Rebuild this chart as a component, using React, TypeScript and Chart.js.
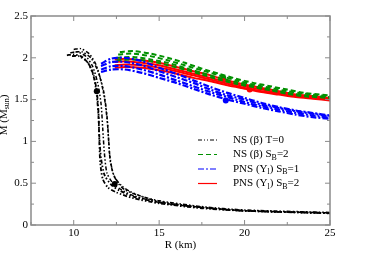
import React, { useEffect, useRef } from "react";
import { Chart, registerables } from "chart.js";
Chart.register(...registerables);

type P = { x: number; y: number };
const pts = (a: number[][]): P[] => a.map(([x, y]) => ({ x, y }));

// NS (beta) T=0
const black1 = [[9.6,2.03],[10.0,2.04],[10.5,2.01],[10.9,1.92],[11.2,1.75],[11.35,1.55],[11.45,1.3],[11.5,1.0],[11.55,0.75],[11.7,0.55],[12.0,0.45],[12.5,0.39],[13.5,0.32],[15,0.26],[17.5,0.2],[20,0.17],[25,0.14]];
const black2 = [[9.8,2.06],[10.2,2.07],[10.7,2.02],[11.1,1.9],[11.4,1.7],[11.6,1.45],[11.7,1.15],[11.8,0.85],[11.95,0.62],[12.3,0.5],[12.8,0.42],[13.5,0.35],[15,0.27],[17.5,0.21],[20,0.17],[25,0.145]];
const black3 = [[10.0,2.1],[10.4,2.11],[10.9,2.05],[11.3,1.92],[11.6,1.72],[11.85,1.45],[12.0,1.15],[12.1,0.85],[12.3,0.62],[12.6,0.5],[13.0,0.42],[14,0.34],[15,0.29],[17.5,0.22],[20,0.18],[25,0.15]];
const black4 = [[9.9,2.02],[10.3,2.02],[10.8,1.95],[11.15,1.8],[11.35,1.6],[11.45,1.35],[11.5,1.05],[11.6,0.8],[11.8,0.6],[12.2,0.48],[12.7,0.41],[13.5,0.34],[15,0.27],[17.5,0.21],[20,0.17],[25,0.14]];
const black5 = [[10.1,2.07],[10.5,2.07],[11.0,2.0],[11.4,1.85],[11.75,1.6],[11.95,1.3],[12.05,1.0],[12.15,0.75],[12.4,0.57],[12.8,0.47],[13.3,0.4],[14,0.34],[15,0.28],[17.5,0.21],[20,0.17],[25,0.145]];
// NS (beta) S_B=2
const green1 = [[12.7,2.07],[13.5,2.08],[14.5,2.05],[15.5,2.0],[16.5,1.94],[17.5,1.87],[18.5,1.81],[19.5,1.75],[20.5,1.7],[21.5,1.66],[22.5,1.62],[23.5,1.58],[25,1.55]];
const green2 = [[12.6,2.04],[13.5,2.05],[14.5,2.02],[15.5,1.97],[16.5,1.91],[17.5,1.85],[18.5,1.79],[19.5,1.73],[20.5,1.68],[21.5,1.64],[22.5,1.6],[23.5,1.57],[25,1.54]];
const green3 = [[12.5,2.0],[13.5,2.01],[14.5,1.98],[15.5,1.94],[16.5,1.88],[17.5,1.82],[18.5,1.76],[19.5,1.71],[20.5,1.66],[21.5,1.62],[22.5,1.58],[23.5,1.55],[25,1.53]];
const green4 = [[12.5,1.97],[13.5,1.98],[14.5,1.96],[15.5,1.91],[16.5,1.86],[17.5,1.8],[18.5,1.74],[19.5,1.69],[20.5,1.65],[21.5,1.61],[22.5,1.57],[23.5,1.54],[25,1.52]];
// PNS (Y_l) S_B=1
const blue1 = [[11.6,1.93],[12.2,1.99],[13,2.0],[14,1.96],[15,1.88],[16,1.81],[17,1.73],[18,1.65],[19,1.58],[20,1.52],[21,1.46],[22,1.41],[23,1.37],[24,1.34],[25,1.31]];
const blue2 = [[11.6,1.9],[12.2,1.95],[13,1.95],[14,1.91],[15,1.84],[16,1.77],[17,1.7],[18,1.62],[19,1.55],[20,1.5],[21,1.44],[22,1.4],[23,1.36],[24,1.33],[25,1.3]];
const blue3 = [[11.6,1.86],[12.2,1.9],[13,1.9],[14,1.86],[15,1.8],[16,1.73],[17,1.66],[18,1.59],[19,1.53],[20,1.47],[21,1.42],[22,1.38],[23,1.34],[24,1.31],[25,1.28]];
const blue4 = [[11.6,1.83],[12.2,1.86],[13,1.86],[14,1.82],[15,1.76],[16,1.7],[17,1.63],[18,1.56],[19,1.5],[20,1.45],[21,1.4],[22,1.36],[23,1.32],[24,1.29],[25,1.27]];
// PNS (Y_l) S_B=2
const red1 = [[12.4,1.98],[13,1.99],[14,1.97],[15,1.94],[16,1.89],[17,1.84],[18,1.79],[19,1.73],[20,1.68],[21,1.64],[22,1.6],[23,1.56],[24,1.54],[25,1.52]];
const red2 = [[12.4,1.95],[13,1.96],[14,1.94],[15,1.91],[16,1.86],[17,1.81],[18,1.76],[19,1.71],[20,1.66],[21,1.62],[22,1.58],[23,1.55],[24,1.53],[25,1.51]];
const red3 = [[12.4,1.91],[13,1.92],[14,1.91],[15,1.88],[16,1.84],[17,1.79],[18,1.74],[19,1.69],[20,1.64],[21,1.6],[22,1.57],[23,1.54],[24,1.52],[25,1.5]];
const red4 = [[12.4,1.88],[13,1.89],[14,1.88],[15,1.85],[16,1.81],[17,1.76],[18,1.72],[19,1.67],[20,1.63],[21,1.59],[22,1.56],[23,1.53],[24,1.51],[25,1.49]];

const blackDots = [[11.35,1.6],[12.4,0.49]];
const greenDots = [[18.75,1.76]];
const blueDots = [[18.9,1.49]];
const redDots = [[20.3,1.62]];

const xTickValues = [10, 15, 20, 25];
const xMinorValues = [7.5, 12.5, 17.5, 22.5];
const yTickValues = [0, 0.5, 1, 1.5, 2, 2.5];
const yMinorValues = [0.25, 0.75, 1.25, 1.75, 2.25];

const legendItems = [
  { parts: [["NS (β) T=0", ""]], color: "#000000", dash: [4, 2, 1, 2, 1, 2] },
  { parts: [["NS (β) S", ""], ["B", "sub"], ["=2", ""]], color: "#009000", dash: [5, 3] },
  { parts: [["PNS (Y", ""], ["l", "sub"], [") S", ""], ["B", "sub"], ["=1", ""]], color: "#0000ff", dash: [6, 2, 2, 2] },
  { parts: [["PNS (Y", ""], ["l", "sub"], [") S", ""], ["B", "sub"], ["=2", ""]], color: "#ff0000", dash: [] as number[] },
];

const FONT = "'Liberation Serif', 'DejaVu Serif', serif";
const AXIS = "#8a8a8a";

function line(data: number[][], color: string, dash: number[], width: number) {
  return {
    data: pts(data), borderColor: color, backgroundColor: color, borderDash: dash,
    borderWidth: width, pointRadius: 0, showLine: true, tension: 0.25, fill: false,
  };
}
function dots(data: number[][], color: string) {
  return { data: pts(data), borderColor: color, backgroundColor: color, pointRadius: 3, showLine: false, borderWidth: 0 };
}

function drawParts(ctx: CanvasRenderingContext2D, parts: string[][], x: number, y: number, size: number) {
  let cx = x;
  for (const [t, k] of parts) {
    if (k === "sub") {
      ctx.font = `${size * 0.72}px ${FONT}`;
      ctx.fillText(t, cx, y + 3);
    } else {
      ctx.font = `${size}px ${FONT}`;
      ctx.fillText(t, cx, y);
    }
    cx += ctx.measureText(t).width;
  }
  return cx - x;
}

const framePlugin = {
  id: "frame",
  afterDraw(chart: any) {
    const { ctx, chartArea: a, scales } = chart;
    const xs = scales.x, ys = scales.y;
    ctx.save();
    ctx.strokeStyle = AXIS;
    ctx.lineWidth = 1.5;
    ctx.setLineDash([]);
    ctx.strokeRect(a.left, a.top, a.right - a.left, a.bottom - a.top);
    ctx.lineWidth = 1;
    const tick = (vals: number[], len: number) => {
      for (const v of vals) {
        const px = xs.getPixelForValue(v);
        ctx.beginPath();
        ctx.moveTo(px, a.bottom); ctx.lineTo(px, a.bottom - len);
        ctx.moveTo(px, a.top); ctx.lineTo(px, a.top + len);
        ctx.stroke();
      }
    };
    const ytick = (vals: number[], len: number) => {
      for (const v of vals) {
        const py = ys.getPixelForValue(v);
        ctx.beginPath();
        ctx.moveTo(a.left, py); ctx.lineTo(a.left + len, py);
        ctx.moveTo(a.right, py); ctx.lineTo(a.right - len, py);
        ctx.stroke();
      }
    };
    tick(xTickValues, 5); tick(xMinorValues, 3);
    ytick(yTickValues, 5); ytick(yMinorValues, 3);

    // legend
    ctx.fillStyle = "#000";
    ctx.textBaseline = "middle";
    const rows = [140, 154.5, 169, 183.5];
    legendItems.forEach((it, i) => {
      const y = rows[i];
      ctx.strokeStyle = it.color;
      ctx.lineWidth = 1.2;
      ctx.setLineDash(it.dash);
      ctx.beginPath(); ctx.moveTo(198, y); ctx.lineTo(217, y); ctx.stroke();
      ctx.setLineDash([]);
      ctx.textAlign = "left";
      drawParts(ctx, it.parts as string[][], 233, y, 11);
    });

    // axis titles
    ctx.textAlign = "center";
    ctx.font = `11px ${FONT}`;
    ctx.fillText("R (km)", (a.left + a.right) / 2, 245);
    ctx.save();
    ctx.translate(4, 115);
    ctx.rotate(-Math.PI / 2);
    ctx.textAlign = "left";
    const parts = [["M (M", ""], ["sun", "sub"], [")", ""]];
    let w = 0;
    for (const [t, k] of parts) { ctx.font = `${k ? 11 * 0.72 : 11}px ${FONT}`; w += ctx.measureText(t).width; }
    drawParts(ctx, parts, -w / 2, 0, 11);
    ctx.restore();
    ctx.restore();
  },
};

export default function App() {
  const ref = useRef<HTMLCanvasElement>(null);
  useEffect(() => {
    document.body.style.margin = "0";
    const bDash = [4, 2, 1.5, 2, 1.5, 2];
    const gDash = [5, 3];
    const blDash = [6, 2, 2, 2];
    const chart = new Chart(ref.current!, {
      type: "scatter",
      data: {
        datasets: [
          line(black1, "#000", bDash, 1.8), line(black2, "#000", bDash, 1.5), line(black3, "#000", bDash, 1.5),
          line(black4, "#000", bDash, 1.8), line(black5, "#000", bDash, 1.5),
          line(blue1, "#0000ff", blDash, 2.2), line(blue2, "#0000ff", blDash, 2.2), line(blue3, "#0000ff", blDash, 2.2), line(blue4, "#0000ff", blDash, 2.2),
          line(green1, "#009000", gDash, 2), line(green2, "#009000", gDash, 2), line(green3, "#009000", gDash, 2), line(green4, "#009000", gDash, 2),
          line(red1, "#ff0000", [], 2), line(red2, "#ff0000", [], 2), line(red3, "#ff0000", [], 2), line(red4, "#ff0000", [], 2),
          dots(blackDots, "#000"), dots(greenDots, "#009000"), dots(blueDots, "#0000ff"), dots(redDots, "#ff0000"),
        ] as any,
      },
      options: {
        animation: false,
        responsive: false,
        layout: { padding: { top: 16, right: 43, left: 0, bottom: 0 } },
        plugins: { legend: { display: false }, tooltip: { enabled: false } },
        scales: {
          x: {
            type: "linear", min: 7.5, max: 25,
            grid: { display: false, drawTicks: false, tickLength: 0 }, border: { display: false },
            afterBuildTicks: (s: any) => { s.ticks = xTickValues.map((v) => ({ value: v })); },
            afterFit: (s: any) => { s.height = 45; },
            ticks: { font: { family: FONT, size: 11 }, color: "#000", padding: 2, maxRotation: 0, callback: (v: any) => String(v) },
          },
          y: {
            type: "linear", min: 0, max: 2.5,
            grid: { display: false, drawTicks: false, tickLength: 0 }, border: { display: false },
            afterBuildTicks: (s: any) => { s.ticks = yTickValues.map((v) => ({ value: v })); },
            afterFit: (s: any) => { s.width = 31; },
            ticks: { font: { family: FONT, size: 11 }, color: "#000", padding: 3, callback: (v: any) => String(v) },
          },
        },
      },
      plugins: [framePlugin],
    });
    return () => chart.destroy();
  }, []);
  return <canvas ref={ref} width={373} height={270} style={{ display: "block" }} />;
}
